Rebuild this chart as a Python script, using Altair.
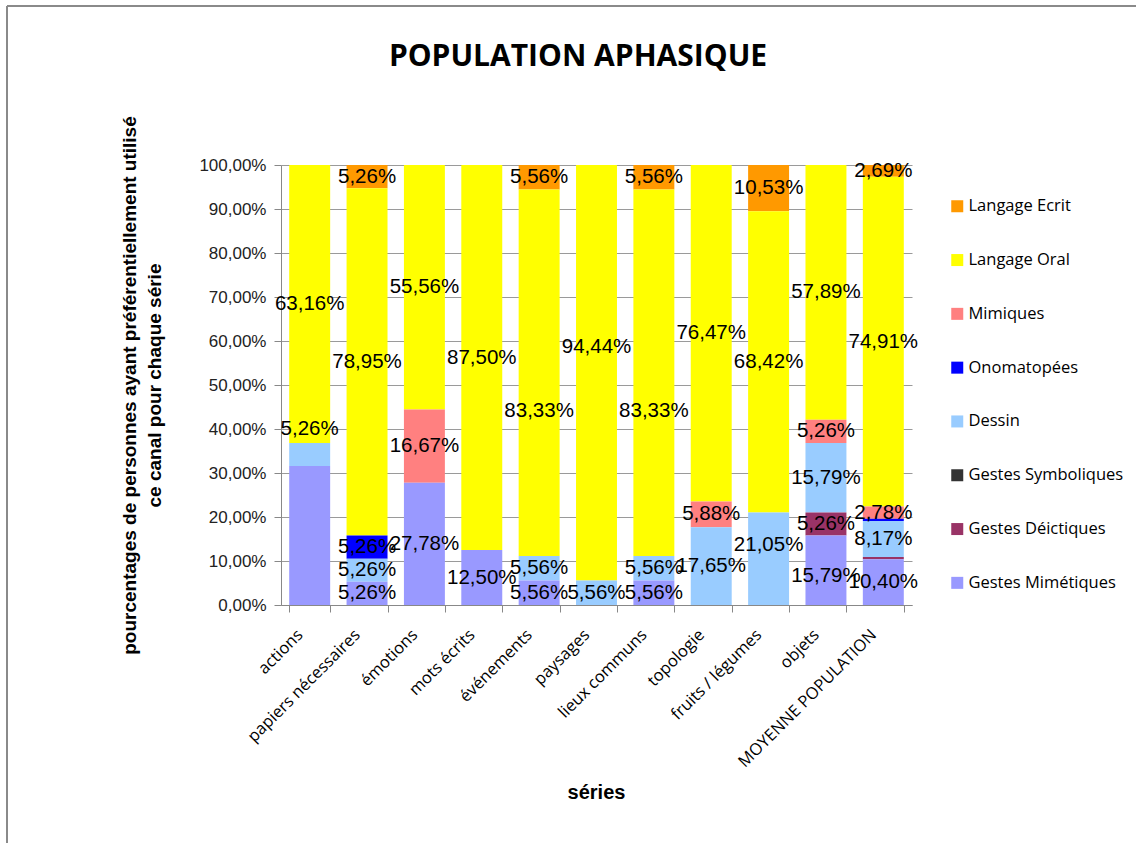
import altair as alt
import pandas as pd

# Categories (x axis) and communication channels (legend order, top to bottom)
categories = ["actions", "papiers nécessaires", "émotions", "mots écrits", "événements",
              "paysages", "lieux communs", "topologie", "fruits / légumes", "objets",
              "MOYENNE POPULATION"]
series = ["Langage Ecrit", "Langage Oral", "Mimiques", "Onomatopées", "Dessin",
          "Gestes Symboliques", "Gestes Déictiques", "Gestes Mimétiques"]
colors = ["#FF9900", "#FFFF00", "#FF8080", "#0000FF", "#99CCFF",
          "#333333", "#993366", "#9999FF"]

# Percentages per channel, one value per category
langage_ecrit = [0, 5.26, 0, 0, 5.56, 0, 5.56, 0, 10.53, 0, 2.69]
langage_oral = [63.16, 78.95, 55.56, 87.50, 83.33, 94.44, 83.33, 76.47, 68.42, 57.89, 74.91]
mimiques = [0, 0, 16.67, 0, 0, 0, 0, 5.88, 0, 5.26, 2.78]
onomatopees = [0, 5.26, 0, 0, 0, 0, 0, 0, 0, 0, 0.53]
dessin = [5.26, 5.26, 0, 0, 5.56, 5.56, 5.56, 17.65, 21.05, 15.79, 8.17]
gestes_symboliques = [0, 0, 0, 0, 0, 0, 0, 0, 0, 0, 0]
gestes_deictiques = [0, 0, 0, 0, 0, 0, 0, 0, 0, 5.26, 0.53]
gestes_mimetiques = [31.58, 5.26, 27.78, 12.50, 5.56, 0, 5.56, 0, 0, 15.79, 10.40]

values_by_series = [langage_ecrit, langage_oral, mimiques, onomatopees, dessin,
                    gestes_symboliques, gestes_deictiques, gestes_mimetiques]

# Segment labels that are left out of the chart
hidden_labels = [("actions", "Gestes Mimétiques")]

# Labels moved off their segment centre so neighbouring labels stay readable
# (shift in percentage points along the y axis)
label_shift = {
    ("actions", "Dessin"): 5.9,
    ("événements", "Langage Oral"): -8.8,
    ("paysages", "Langage Oral"): 5.9,
    ("lieux communs", "Langage Oral"): -8.8,
    ("fruits / légumes", "Dessin"): 3.2,
    ("objets", "Gestes Mimétiques"): -1.2,
}

rows = []
for s_i, (name, vals) in enumerate(zip(series, values_by_series)):
    for cat, v in zip(categories, vals):
        rows.append({
            "cat": cat,
            "series": name,
            "v": v,
            "idx": len(series) - 1 - s_i,  # stacking order: Mimétiques at the bottom
            "show": 0 if (cat, name) in hidden_labels else 1,
            "shift": label_shift.get((cat, name), 0.0),
        })
df = pd.DataFrame(rows)

pct_expr = "replace(format(datum.value, '.2f'), '.', ',') + '%'"

x_axis = alt.Axis(
    labelAngle=315, labelAlign="right", labelBaseline="middle",
    labelFont="Open Sans", labelFontSize=16.5, labelColor="#000000",
    labelPadding=20, labelOffset=-10, labelLimit=400,
    tickBand="extent", tickColor="#888888", tickSize=7,
    domainColor="#888888", grid=False,
    title="séries", titleFont="Liberation Sans", titleFontSize=20,
    titleFontWeight="bold", titleColor="#000000",
    titleX=315, titleY=187, titleBaseline="middle",
)
y_axis = alt.Axis(
    values=list(range(0, 101, 10)), labelExpr=pct_expr,
    labelFont="Liberation Sans", labelFontSize=17, labelColor="#222222", labelPadding=8,
    tickColor="#888888", tickSize=7, domainColor="#888888",
    grid=True, gridColor="#9a9a9a",
    title=["pourcentages de personnes ayant préférentiellement utilisé",
           "ce canal pour chaque série"],
    titleFont="Liberation Sans", titleFontSize=19, titleFontWeight="bold",
    titleColor="#000000", titleAngle=270, titleBaseline="top", titleLineHeight=25,
    titleX=-161, titleY=220,
)

x_enc = alt.X("cat:N", sort=categories, axis=x_axis,
              scale=alt.Scale(paddingInner=0.286, paddingOuter=0.143))
y_scale = alt.Scale(domain=[0, 100], nice=False)

base = alt.Chart(df)

bars = base.mark_bar().encode(
    x=x_enc,
    y=alt.Y("v:Q", stack="zero", scale=y_scale, axis=y_axis),
    color=alt.Color(
        "series:N",
        scale=alt.Scale(domain=series, range=colors),
        legend=alt.Legend(
            orient="none", legendX=668, legendY=33, title=None,
            symbolType="square", symbolSize=144, symbolStrokeWidth=0,
            symbolOpacity=1, labelFont="Open Sans", labelFontSize=16.5,
            labelColor="#000000", labelLimit=300, rowPadding=36.8,
            labelOffset=3, padding=0,
        ),
    ),
    order=alt.Order("idx:Q", sort="ascending"),
)

labels = base.transform_stack(
    stack="v", groupby=["cat"], sort=[alt.SortField("idx", order="ascending")],
    as_=["v0", "v1"],
).transform_calculate(
    mid="(datum.v0 + datum.v1) / 2 + datum.shift",
    txt="replace(format(datum.v, '.2f'), '.', ',') + '%'",
).transform_filter(
    "datum.show == 1 && datum.v >= 1"
).mark_text(
    font="Liberation Sans", fontSize=20.5, color="#000000",
    align="center", baseline="middle",
).encode(
    x=x_enc,
    y=alt.Y("mid:Q", scale=y_scale, axis=y_axis),
    text="txt:N",
)

one_row = alt.Data(values=[{"k": 1}])

title = alt.Chart(one_row).mark_text(
    text="POPULATION APHASIQUE", font="Open Sans", fontSize=30, fontWeight="bold",
    color="#000000", align="center", baseline="middle",
).encode(x=alt.value(297), y=alt.value(-108))

frame_left = alt.Chart(one_row).mark_rule(color="#8a8a8a", strokeWidth=2).encode(
    x=alt.value(-274), y=alt.value(-159), y2=alt.value(700))
frame_top = alt.Chart(one_row).mark_rule(color="#8a8a8a", strokeWidth=2).encode(
    x=alt.value(-274), x2=alt.value(860), y=alt.value(-159))

chart = alt.layer(bars, labels, title, frame_left, frame_top).properties(
    width=631, height=440,
    autosize=alt.AutoSizeParams(type="none"),
    padding={"left": 281, "top": 165, "right": 224, "bottom": 238},
).configure_view(stroke=None)

chart.save("out.html", embed_options={"renderer": "svg", "actions": False})
